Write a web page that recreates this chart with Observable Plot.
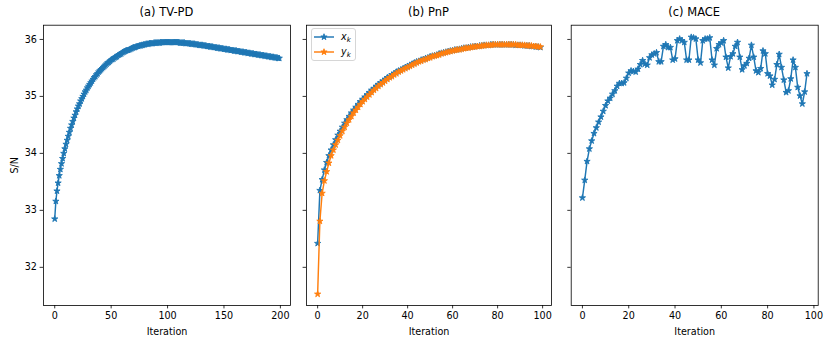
<!DOCTYPE html>
<html><head><meta charset="utf-8">
<script src="https://cdn.jsdelivr.net/npm/d3@7"></script>
<script src="https://cdn.jsdelivr.net/npm/@observablehq/plot@0.6"></script>
<style>
body{margin:0;background:#fff;}
#fig{position:relative;width:830px;height:346px;font-family:"DejaVu Sans",sans-serif;color:#000;overflow:hidden;}
.panel{position:absolute;top:0;}
.title{position:absolute;top:5px;height:14px;line-height:14px;font-size:11.5px;text-align:center;white-space:nowrap;}
#legend{position:absolute;left:311px;top:28px;width:45px;height:33px;border:1px solid #d6d6d6;border-radius:3px;background:rgba(255,255,255,0.8);box-sizing:border-box;}
.lrow{position:absolute;left:0;height:14px;}
.lrow svg{position:absolute;left:2px;top:0;}
.lrow span{position:absolute;left:29px;top:0;line-height:14px;font-size:9.6px;white-space:nowrap;}
.lrow sub{font-size:7px;vertical-align:-2px;font-style:italic;}
</style></head>
<body><div id="fig"></div>
<script>
const tvpd = [
32.85,33.16,33.34,33.48,33.61,33.72,33.82,33.91,34.00,34.08,
34.16,34.23,34.30,34.37,34.44,34.50,34.56,34.62,34.67,34.73,
34.78,34.83,34.87,34.92,34.96,35.00,35.04,35.08,35.11,35.15,
35.18,35.21,35.24,35.27,35.30,35.33,35.35,35.38,35.40,35.43,
35.45,35.47,35.49,35.51,35.53,35.55,35.57,35.59,35.60,35.62,
35.64,35.65,35.66,35.68,35.69,35.70,35.72,35.73,35.74,35.75,
35.77,35.78,35.79,35.80,35.81,35.81,35.82,35.83,35.84,35.85,
35.86,35.86,35.87,35.88,35.88,35.89,35.89,35.90,35.90,35.91,
35.91,35.92,35.92,35.92,35.93,35.93,35.93,35.93,35.94,35.94,
35.94,35.94,35.94,35.94,35.95,35.95,35.95,35.95,35.95,35.95,
35.95,35.95,35.95,35.95,35.95,35.95,35.95,35.95,35.95,35.95,
35.95,35.94,35.94,35.94,35.94,35.94,35.93,35.93,35.93,35.93,
35.93,35.92,35.92,35.92,35.92,35.91,35.91,35.91,35.90,35.90,
35.90,35.90,35.89,35.89,35.89,35.88,35.88,35.88,35.87,35.87,
35.87,35.86,35.86,35.86,35.85,35.85,35.85,35.84,35.84,35.84,
35.83,35.83,35.83,35.82,35.82,35.82,35.81,35.81,35.81,35.80,
35.80,35.80,35.79,35.79,35.79,35.78,35.78,35.78,35.77,35.77,
35.77,35.76,35.76,35.76,35.75,35.75,35.75,35.74,35.74,35.74,
35.73,35.73,35.73,35.72,35.72,35.72,35.71,35.71,35.71,35.70,
35.70,35.70,35.69,35.69,35.69,35.68,35.68,35.68,35.67,35.67];

const pnpX = [
32.42,33.35,33.54,33.71,33.84,33.96,34.06,34.15,34.24,34.32,
34.39,34.46,34.53,34.59,34.65,34.71,34.76,34.81,34.86,34.91,
34.95,34.99,35.03,35.07,35.11,35.14,35.18,35.21,35.24,35.27,
35.30,35.33,35.35,35.38,35.40,35.43,35.45,35.47,35.49,35.51,
35.53,35.55,35.57,35.59,35.61,35.62,35.64,35.65,35.67,35.68,
35.70,35.71,35.72,35.73,35.75,35.76,35.77,35.78,35.79,35.80,
35.81,35.82,35.82,35.83,35.84,35.85,35.85,35.86,35.87,35.87,
35.88,35.88,35.89,35.89,35.90,35.90,35.90,35.91,35.91,35.91,
35.91,35.91,35.91,35.91,35.91,35.91,35.91,35.91,35.90,35.90,
35.90,35.90,35.89,35.89,35.89,35.88,35.88,35.87,35.87,35.86];

const pnpY = [
31.53,32.81,33.30,33.52,33.68,33.83,33.96,34.06,34.15,34.23,
34.31,34.39,34.46,34.53,34.59,34.65,34.71,34.76,34.81,34.86,
34.91,34.95,34.99,35.03,35.07,35.11,35.14,35.18,35.21,35.24,
35.27,35.30,35.33,35.35,35.38,35.40,35.43,35.45,35.47,35.49,
35.51,35.53,35.55,35.57,35.59,35.61,35.62,35.64,35.65,35.67,
35.68,35.70,35.71,35.72,35.73,35.75,35.76,35.77,35.78,35.79,
35.80,35.81,35.82,35.82,35.83,35.84,35.85,35.85,35.86,35.87,
35.87,35.88,35.88,35.89,35.89,35.90,35.90,35.90,35.91,35.91,
35.91,35.91,35.91,35.91,35.91,35.91,35.91,35.91,35.91,35.90,
35.90,35.90,35.90,35.89,35.89,35.89,35.88,35.88,35.87,35.87];

const mace = [
33.22,33.53,33.86,34.08,34.22,34.35,34.45,34.55,34.64,34.74,
34.84,34.92,34.97,35.04,35.10,35.18,35.23,35.23,35.24,35.32,
35.41,35.45,35.44,35.43,35.48,35.56,35.63,35.57,35.55,35.68,
35.73,35.75,35.77,35.61,35.61,35.88,35.91,35.86,35.86,35.64,
35.66,35.98,36.01,35.98,35.95,35.64,35.64,36.04,36.03,36.01,
35.64,35.59,35.98,36.01,36.01,36.03,35.64,35.55,35.84,35.91,
35.94,35.98,35.69,35.50,35.70,35.75,35.88,35.95,35.69,35.47,
35.54,35.58,35.67,35.90,35.69,35.45,35.42,35.49,35.80,35.75,
35.40,35.36,35.20,35.30,35.56,35.74,35.51,35.29,35.07,35.10,
35.31,35.64,35.51,35.16,35.01,34.87,35.08,35.40];

const xTicksA = [0, 50, 100, 150, 200];
const xTicksBC = [0, 20, 40, 60, 80, 100];
const yTicks = [32, 33, 34, 35, 36];
const titles = ["(a) TV-PD", "(b) PnP", "(c) MACE"];
const legendNames = [["x", "k"], ["y", "k"]];
const xLabel = "Iteration";
const yLabel = "S/N";
const colors = ["#1f77b4", "#ff7f0e"];

const yDomain = [31.33, 36.25];
const fig = document.getElementById("fig");
const markerR = 1.95;

function toRows(values) { return values.map((v, i) => ({i, v})); }

function makePanel({series, xTicks, left, width, mL, mR, showYLabels, title}) {
  const n = d3.max(series, s => s.values.length) - 1;
  const marks = [];
  for (const s of series) {
    const rows = toRows(s.values);
    marks.push(Plot.line(rows, {x: "i", y: "v", stroke: s.color, strokeWidth: 1.45}));
    marks.push(Plot.dot(rows, {x: "i", y: "v", symbol: "star", r: markerR, fill: s.color, stroke: s.color, strokeWidth: 0.9}));
  }
  marks.push(Plot.axisX({ticks: xTicks, tickSize: 3.4, tickPadding: 3.2, strokeWidth: 0.8, tickFormat: d3.format("d"),
    label: xLabel, labelAnchor: "center", labelOffset: 29, labelArrow: "none"}));
  marks.push(Plot.axisY(showYLabels
    ? {ticks: yTicks, tickSize: 3.4, tickPadding: 3.2, strokeWidth: 0.8, tickFormat: d3.format("d"), label: yLabel, labelAnchor: "center", labelOffset: 32, labelArrow: "none"}
    : {ticks: yTicks, tickSize: 3.4, strokeWidth: 0.8, tickFormat: () => "", label: null}));
  marks.push(Plot.frame({stroke: "black", strokeWidth: 0.8}));
  const svg = Plot.plot({
    width, height: 346,
    marginLeft: mL, marginRight: mR, marginTop: 24.7, marginBottom: 41,
    x: {domain: [-0.05 * n, 1.05 * n]},
    y: {domain: yDomain},
    style: {fontFamily: "DejaVu Sans, sans-serif", fontSize: "9.6px", background: "transparent", overflow: "visible", color: "black"},
    marks
  });
  svg.classList.add("panel");
  svg.style.left = left + "px";
  fig.appendChild(svg);
  const t = document.createElement("div");
  t.className = "title";
  t.style.left = (left + mL) + "px";
  t.style.width = (width - mL - mR) + "px";
  t.textContent = title;
  fig.appendChild(t);
}

makePanel({series: [{values: tvpd, color: colors[0]}], xTicks: xTicksA, left: 0, width: 292, mL: 43, mR: 2, showYLabels: true, title: titles[0]});
makePanel({series: [{values: pnpX, color: colors[0]}, {values: pnpY, color: colors[1]}], xTicks: xTicksBC, left: 300, width: 255, mL: 6, mR: 4, showYLabels: false, title: titles[1]});
makePanel({series: [{values: mace, color: colors[0]}], xTicks: xTicksBC, left: 560, width: 270, mL: 10.7, mR: 12.3, showYLabels: false, title: titles[2]});

// legend for panel (b)
const legend = document.createElement("div");
legend.id = "legend";
const starPath = d3.symbol(d3.symbolStar, Math.PI * markerR * markerR)();
legendNames.forEach(([base, sub], k) => {
  const row = document.createElement("div");
  row.className = "lrow";
  row.style.top = (1 + k * 15) + "px";
  row.style.width = "45px";
  const svg = d3.create("svg").attr("width", 22).attr("height", 14);
  svg.append("line").attr("x1", 0).attr("x2", 20).attr("y1", 7).attr("y2", 7)
    .attr("stroke", colors[k]).attr("stroke-width", 1.45);
  svg.append("path").attr("d", starPath).attr("transform", "translate(10,7)")
    .attr("fill", colors[k]).attr("stroke", colors[k]).attr("stroke-width", 0.9);
  row.appendChild(svg.node());
  const span = document.createElement("span");
  span.innerHTML = "<i>" + base + "</i><sub>" + sub + "</sub>";
  row.appendChild(span);
  legend.appendChild(row);
});
fig.appendChild(legend);
</script>
</body></html>
